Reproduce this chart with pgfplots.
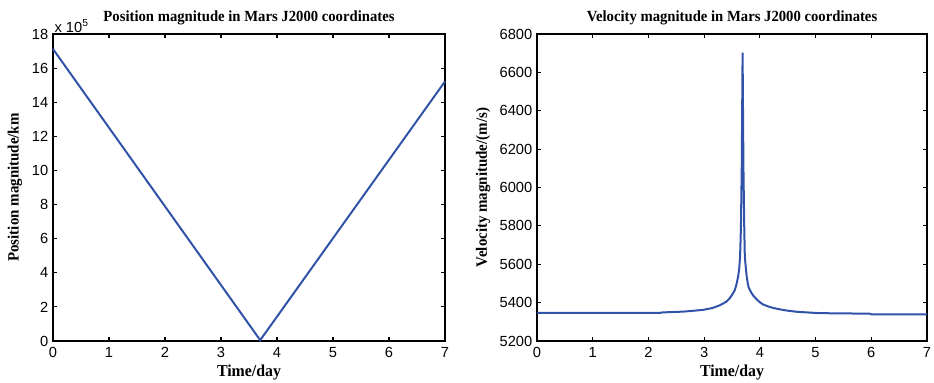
\documentclass[border=0pt]{standalone}
\usepackage{fontspec}
\setmainfont{Liberation Sans}
\newfontfamily\tb[FakeStretch=0.95]{Liberation Serif}
\usepackage{pgfplots}
\pgfplotsset{compat=1.18}
\definecolor{lineblue}{RGB}{48,82,168}
\pgfplotsset{
  mystyle/.style={
    scale only axis,
    width=294pt, height=230.25pt,
    xmin=0, xmax=7, xtick={0,1,...,7},
    axis line style={line width=1.1pt, black},
    tick style={line width=0.9pt, black},
    major tick length=3pt,
    tick align=inside,
    xtick pos=both, ytick pos=both,
    every tick label/.append style={font=\fontsize{11}{12}\selectfont},
    /pgf/number format/assume math mode=true,
    /pgf/number format/1000 sep={},
    xticklabel style={yshift=-1pt},
    xlabel={\tb\bfseries Time/day},
    xlabel style={at={(axis description cs:0.5,-0.104)}, anchor=center, font=\fontsize{12.5}{14}\selectfont},
    title style={at={(axis description cs:0.5,1.026)}, anchor=center, font=\fontsize{11.6}{13}\selectfont},
    ylabel style={font=\fontsize{11.8}{13}\selectfont, anchor=center},
    clip=false,
  }
}
\begin{document}
\begin{tikzpicture}
\useasboundingbox (0,0) rectangle (700.5pt,286.5pt);
\begin{axis}[mystyle,
  at={(39.75pt,30.75pt)}, anchor=south west,
  ymin=0, ymax=1800000, ytick={0,200000,...,1800000},
  scaled y ticks=base 10:-5,
  ytick scale label code/.code={x 10\textsuperscript{5}},
  every y tick scale label/.style={at={(rel axis cs:0,1)}, anchor=south west, inner sep=1pt, font=\fontsize{11}{12}\selectfont},
  title={\tb\bfseries Position magnitude in Mars J2000 coordinates},
  ylabel={\tb\bfseries Position magnitude/km},
  ylabel style={at={(axis description cs:-0.097,0.5)}},
]
\addplot[lineblue, line width=1.5pt] coordinates {
(0,1712000) (3.70,5000) (7,1522000)
};
\end{axis}
\begin{axis}[mystyle,
  at={(402.75pt,30.75pt)}, anchor=south west,
  width=292.5pt,
  ymin=5200, ymax=6800, ytick={5200,5400,...,6800},
  scaled y ticks=false,
  title={\tb\bfseries Velocity magnitude in Mars J2000 coordinates},
  ylabel={\tb\bfseries Velocity magnitude/(m/s)},
  ylabel style={at={(axis description cs:-0.138,0.5)}},
]
\addplot[lineblue, line width=1.5pt] coordinates {
(0,5346) (2.2,5346) (2.25,5349) (2.62,5353) (2.98,5362) (3.15,5372) (3.28,5386)
(3.40,5405) (3.46,5423) (3.50,5440) (3.55,5465) (3.58,5495) (3.61,5535) (3.63,5580)
(3.645,5640) (3.66,5789) (3.675,6108) (3.69,6703) (3.705,6108) (3.72,5789)
(3.73,5640) (3.745,5590) (3.76,5545) (3.78,5505) (3.80,5478) (3.84,5455)
(3.88,5437) (3.94,5418) (4.0,5402) (4.06,5390) (4.15,5380) (4.24,5372)
(4.45,5360) (4.67,5352) (5.08,5345) (5.5,5344) (5.98,5342) (6.0,5339) (7,5339)
};
\end{axis}
\end{tikzpicture}
\end{document}
